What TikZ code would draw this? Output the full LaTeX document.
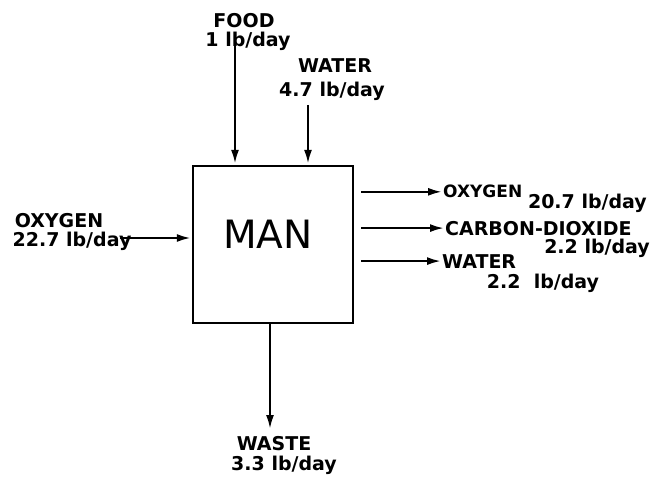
\documentclass[tikz,border=0pt]{standalone}
\usepackage{fontspec}
\setmainfont{DejaVu Sans}
\newfontfamily\lettering{DejaVu Sans}
\usetikzlibrary{arrows.meta,positioning}

\begin{document}
\begin{tikzpicture}[x=1pt, y=-1pt, >={Latex[length=14pt,width=8pt]}, unit/.style={draw, line width=2.4pt, minimum width=160pt, minimum height=157pt}, lbl/.style={font=\lettering\bfseries\fontsize{19}{21}\selectfont, inner sep=0pt}, title/.style={font=\fontsize{39}{41}\selectfont, inner sep=0pt}, flow/.style={->, line width=2.2pt, shorten >=1pt}]
\useasboundingbox (0,0) rectangle (652,478);
\node[unit] (man) at (273,244.5) {};
\node[title, anchor=base] (mantxt) at (268,248) {MAN};
\node[lbl, anchor=base] (foodin) at (244,28) {FOOD};
\node[lbl, anchor=base] (foodrate) at (248,47) {1 lb/day};
\node[lbl, anchor=base] (waterin) at (335,73) {WATER};
\node[lbl, anchor=base] (waterinrate) at (332,97) {4.7 lb/day};
\node[lbl, anchor=base] (oxin) at (59,227) {OXYGEN};
\node[lbl, anchor=base] (oxinrate) at (72,246) {22.7 lb/day};
\node[lbl, font=\lettering\bfseries\fontsize{17}{20}\selectfont, anchor=base west] (oxout) at (443,198) {OXYGEN};
\node[lbl, anchor=base east] (oxoutrate) at (647,208) {20.7 lb/day};
\node[lbl, anchor=base west] (cdout) at (445,235) {CARBON-DIOXIDE};
\node[lbl, anchor=base east] (cdoutrate) at (650,253) {2.2 lb/day};
\node[lbl, anchor=base west] (waterout) at (442,268) {WATER};
\node[lbl, anchor=base] (wateroutrate) at (543,288) {2.2\ \ lb/day};
\node[lbl, anchor=base] (waste) at (274,450) {WASTE};
\node[lbl, anchor=base] (wasterate) at (284,470) {3.3 lb/day};
\coordinate (foodtop) at (235,42);
\coordinate (watertop) at (308,105);
\coordinate (oxstart) at (120,238);
\coordinate (wasteend) at (270,430);
\coordinate (rside) at ([xshift=7pt]man.east);
\draw[flow] (foodtop) -- (foodtop |- man.north);
\draw[flow] (watertop) -- (watertop |- man.north);
\draw[flow] (oxstart) -- (oxstart -| man.west);
\draw[flow] (rside |- oxout.west) -- (oxout.west);
\draw[flow] (rside |- cdout.west) -- (cdout.west);
\draw[flow] (rside |- waterout.west) -- (waterout.west);
\draw[flow] (wasteend |- man.south) -- (wasteend);
\end{tikzpicture}
\end{document}
